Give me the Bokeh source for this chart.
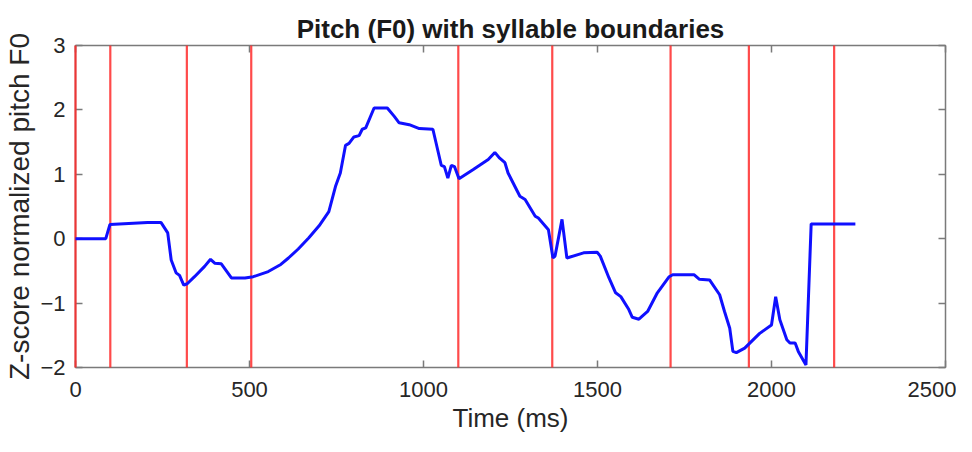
from bokeh.plotting import figure
from bokeh.models import Range1d, LinearAxis, FixedTicker
from bokeh.embed import file_html
from bokeh.resources import INLINE

# Syllable boundaries (ms)
boundaries_ms = [0, 100, 320, 505, 1100, 1370, 1710, 1935, 2180]

# Pitch contour (time in ms, z-score normalized F0)
time_ms = [0, 87, 99, 207, 246, 265, 275, 289, 299, 311, 321, 342, 371, 388, 400, 419,
           448, 487, 511, 554, 590, 612, 640, 670, 700, 728, 747, 761, 776, 786, 800, 815,
           824, 834, 858, 896, 916, 930, 959, 988, 1027, 1051, 1060, 1070, 1080, 1089,
           1102, 1142, 1186, 1205, 1219, 1234, 1243, 1277, 1292, 1321, 1330, 1359, 1372,
           1378, 1398, 1412, 1460, 1499, 1508, 1533, 1552, 1567, 1590, 1600, 1619, 1644,
           1672, 1706, 1716, 1778, 1793, 1822, 1851, 1865, 1880, 1889, 1899, 1923, 1966,
           2000, 2012, 2024, 2044, 2053, 2068, 2077, 2099, 2114, 2241]
pitch_z = [0, 0, 0.22, 0.25, 0.25, 0.09, -0.33, -0.53, -0.57, -0.72, -0.70, -0.59, -0.43,
           -0.32, -0.38, -0.39, -0.61, -0.61, -0.59, -0.51, -0.40, -0.30, -0.16, 0.01, 0.20,
           0.42, 0.81, 1.02, 1.45, 1.48, 1.58, 1.60, 1.70, 1.72, 2.03, 2.03, 1.90, 1.80, 1.77,
           1.71, 1.70, 1.14, 1.12, 0.94, 1.14, 1.12, 0.93, 1.07, 1.23, 1.34, 1.25, 1.18, 1.02,
           0.66, 0.61, 0.35, 0.32, 0.14, -0.30, -0.27, 0.30, -0.30, -0.22, -0.21, -0.27,
           -0.61, -0.84, -0.90, -1.10, -1.22, -1.25, -1.13, -0.84, -0.59, -0.56, -0.56,
           -0.63, -0.64, -0.87, -1.13, -1.39, -1.75, -1.77, -1.70, -1.47, -1.34, -0.90,
           -1.26, -1.57, -1.62, -1.62, -1.75, -1.96, 0.23, 0.23]

x_ticks = [0, 500, 1000, 1500, 2000, 2500]
y_ticks = [-2, -1, 0, 1, 2, 3]

FONT = "Liberation Sans"
TXT = "#262626"
AX = "#7a7a7a"

p = figure(width=956, height=436, output_backend="svg", toolbar_location=None,
           x_range=Range1d(0, 2500), y_range=Range1d(-2, 3),
           min_border_left=75, min_border_right=11, min_border_top=45, min_border_bottom=69,
           title="Pitch (F0) with syllable boundaries")
p.title.align = "center"
p.title.text_font = FONT
p.title.text_font_size = "26px"
p.title.text_font_style = "bold"
p.title.text_color = "#1a1a1a"
p.title.offset = 0
p.title.standoff = 4
p.grid.visible = False
p.outline_line_color = AX
p.background_fill_color = "white"
p.border_fill_color = "white"

def style_axis(ax):
    ax.axis_line_color = AX
    ax.axis_line_width = 1.5
    ax.major_tick_line_color = AX
    ax.major_tick_line_width = 1.5
    ax.major_tick_in = 7
    ax.major_tick_out = 0
    ax.minor_tick_line_color = None
    ax.major_label_text_font = FONT
    ax.major_label_text_color = TXT
    ax.major_label_text_font_size = "22px"
    ax.axis_label_text_font = FONT
    ax.axis_label_text_font_size = "26px"
    ax.axis_label_text_font_style = "normal"
    ax.axis_label_text_color = TXT

xa = p.xaxis[0]
xa.ticker = FixedTicker(ticks=x_ticks)
xa.axis_label = "Time (ms)"
style_axis(xa)
xa.major_label_standoff = 14
xa.axis_label_standoff = 3

ya = p.yaxis[0]
ya.ticker = FixedTicker(ticks=y_ticks)
ya.axis_label = "Z-score normalized pitch F0"
style_axis(ya)
ya.axis_label_text_font_size = "28px"
ya.major_label_standoff = 10
ya.axis_label_standoff = 2

top = LinearAxis(ticker=FixedTicker(ticks=x_ticks))
style_axis(top)
top.major_label_overrides = {t: "" for t in x_ticks}
top.major_label_standoff = 0
p.add_layout(top, "above")

right = LinearAxis(ticker=FixedTicker(ticks=y_ticks))
style_axis(right)
right.major_label_overrides = {t: "" for t in y_ticks}
right.major_label_standoff = 0
p.add_layout(right, "right")

p.segment(x0=boundaries_ms, x1=boundaries_ms, y0=-2, y1=3,
          line_color="#ff2a2a", line_width=2.2, line_alpha=0.85, level="overlay")
p.line(time_ms, pitch_z, line_color="#1010ff", line_width=3, level="overlay")

open("out.html", "w").write(file_html(p, INLINE))
